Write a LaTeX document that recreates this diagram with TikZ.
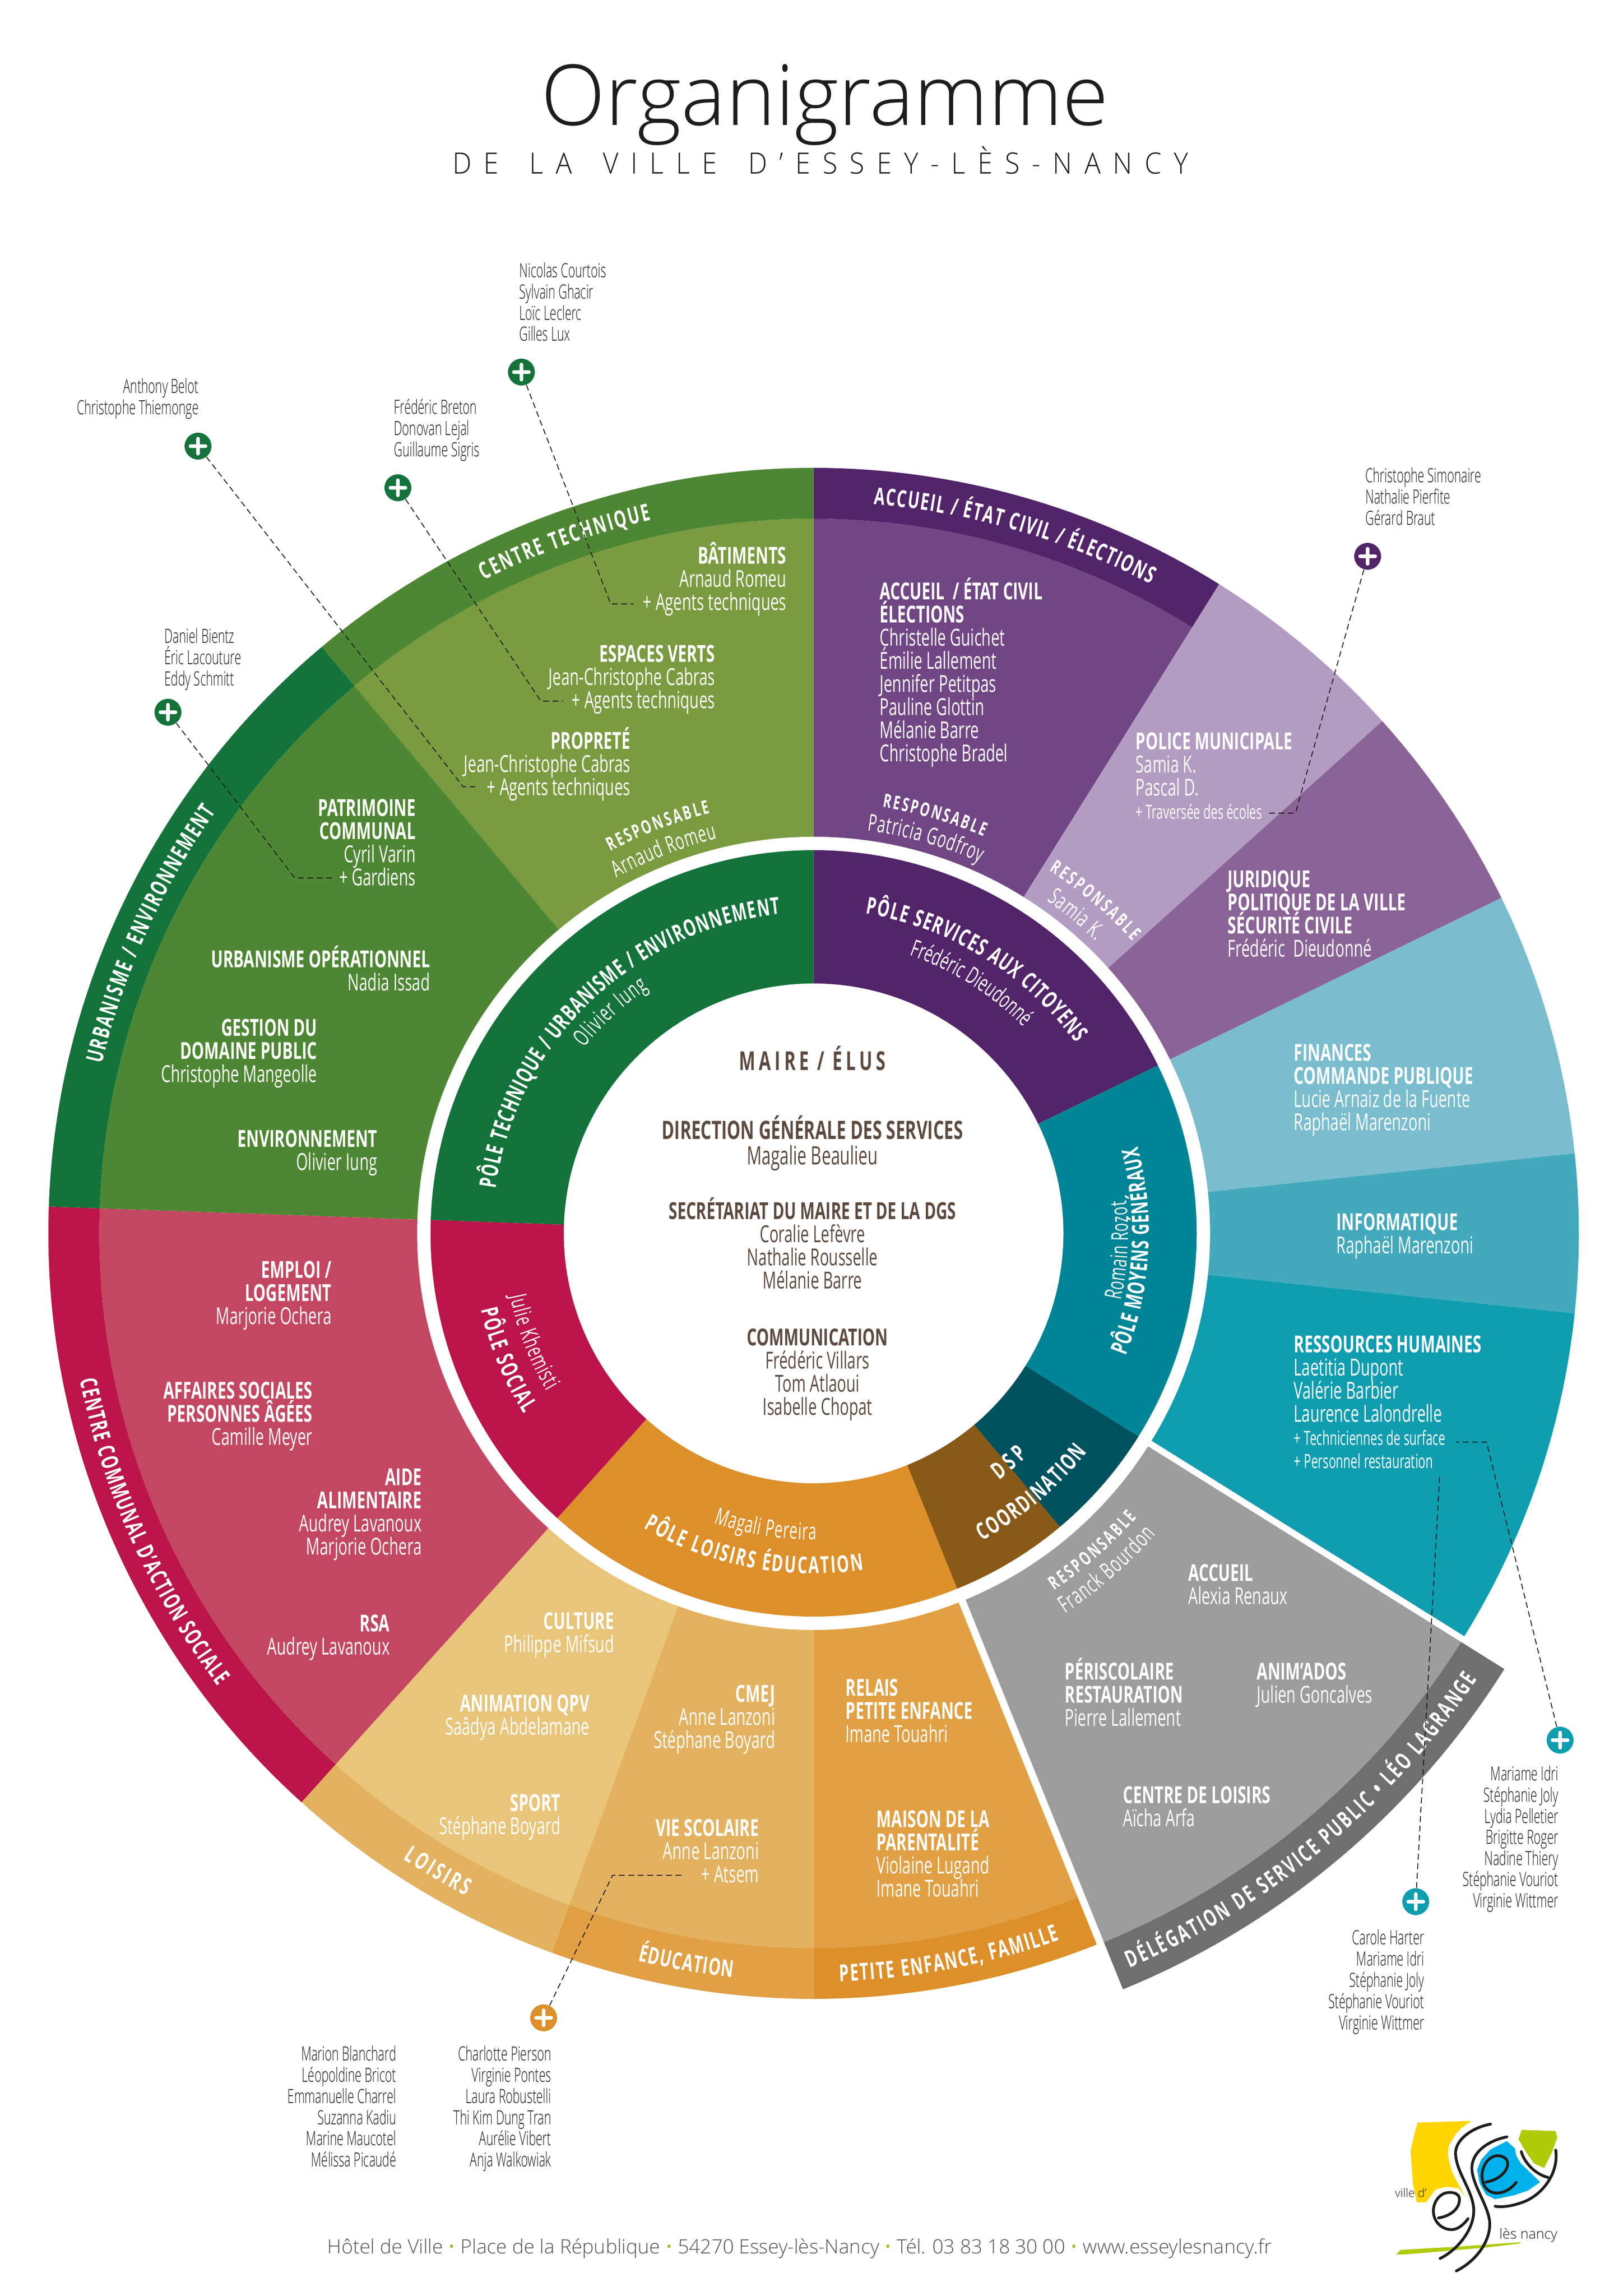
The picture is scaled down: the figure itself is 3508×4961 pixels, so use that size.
\documentclass[tikz,border=0pt]{standalone}
\usepackage{fontspec}
\usetikzlibrary{decorations.text}
\setmainfont{Open Sans}
\newfontfamily\ffB[FakeStretch=0.67]{Open Sans Bold}
\newfontfamily\ffBA[FakeStretch=0.66]{Open Sans Bold}
\newfontfamily\ffR[FakeStretch=0.65]{Open Sans}
\newfontfamily\ffQ[FakeStretch=0.62]{Open Sans}
\newfontfamily\ffL[FakeStretch=0.61]{Open Sans Light}
\newfontfamily\ffT{Open Sans Light}
\newfontfamily\ffS[LetterSpace=42,FakeStretch=0.92]{Open Sans Light}
\newcommand\fH{\ffB\fontsize{14.4pt}{15pt}\selectfont}
\newcommand\fN{\ffR\fontsize{14.4pt}{15pt}\selectfont}
\newcommand\fCH{\ffB\fontsize{15.6pt}{16pt}\selectfont}
\newcommand\fCN{\ffR\fontsize{15.6pt}{16pt}\selectfont}
\newcommand\fS{\ffQ\fontsize{12pt}{13pt}\selectfont}
\newcommand\fO{\ffL\fontsize{12pt}{13pt}\selectfont}
\newcommand\fBand{\ffBA\fontsize{14.4pt}{15pt}\selectfont}
\newcommand\fResp{\ffBA\fontsize{11.6pt}{12pt}\selectfont}
\newcommand\fArcN{\ffQ\fontsize{14.4pt}{15pt}\selectfont}
\definecolor{gA}{HTML}{13733A}\definecolor{gB}{HTML}{4E8733}\definecolor{gC}{HTML}{7A9B3F}
\definecolor{pA}{HTML}{52246A}\definecolor{pB}{HTML}{714684}\definecolor{pC}{HTML}{B39CC1}\definecolor{pD}{HTML}{8B6497}
\definecolor{tA}{HTML}{008596}\definecolor{tB}{HTML}{00525E}\definecolor{tC}{HTML}{79BDCE}\definecolor{tD}{HTML}{43A9BC}\definecolor{tE}{HTML}{0F9DB0}
\definecolor{brn}{HTML}{885917}\definecolor{oA}{HTML}{DD8F2A}\definecolor{oB}{HTML}{E1A043}\definecolor{oC}{HTML}{E3B260}\definecolor{oD}{HTML}{E9C57A}
\definecolor{rA}{HTML}{BB1549}\definecolor{rB}{HTML}{C44761}
\definecolor{grA}{HTML}{9D9D9D}\definecolor{grB}{HTML}{706F6F}
\definecolor{ink}{HTML}{1D1D1B}\definecolor{brown}{HTML}{5D4A3F}\definecolor{foot}{HTML}{575756}\definecolor{lime}{HTML}{95C11F}
\definecolor{lgY}{HTML}{FFD500}\definecolor{lgB}{HTML}{00B1EB}\definecolor{lgG}{HTML}{AFCB08}
\newcounter{lb}
\def\blkoff{3}
\newcommand\Sec[5]{\fill[#1] (#2:#4) -- (#2:#5) arc[start angle=#2,end angle=#3,radius=#5] -- (#3:#4) arc[start angle=#3,end angle=#2,radius=#4] -- cycle;}
\newcommand\ArcT[5]{\path[decorate,decoration={text along path,text align=fit to path,text={|\color{white}#4|#5}}] (#2:#1) arc[start angle=#2,end angle=#3,radius=#1];}
\newcommand\Blk[6]{\foreach \lbl [count=\ii from 0] in {#6}{\stepcounter{lb}\node[anchor=#5,inner sep=0pt,text=#1] (L\thelb) at ({#3},{4961-(#4)-\blkoff-\ii*(#2)}) {\lbl};}}
\newcommand\Pt[3]{\coordinate (#1) at ({#2},{4961-(#3)});}
\newcommand\Plus[4]{\node[plusn,fill=#1] (#2) at ({#3},{4961-(#4)}) {};}
\tikzset{
 plusn/.style={circle,inner sep=0pt,minimum size=5.8mm,path picture={
   \draw[white,line width=0.85mm,line cap=round] ([xshift=-1.6mm]path picture bounding box.center) -- ([xshift=1.6mm]path picture bounding box.center);
   \draw[white,line width=0.85mm,line cap=round] ([yshift=-1.6mm]path picture bounding box.center) -- ([yshift=1.6mm]path picture bounding box.center);}},
 leader/.style={draw=ink,line width=0.55pt,dash pattern=on 3.6pt off 2.2pt},
 stroke/.style={draw=ink,line width=1.7pt,line cap=round}
}
\begin{document}
\begin{tikzpicture}[x=0.1mm,y=0.1mm]
\useasboundingbox (0,0) rectangle (3508,4961);
% ---- title
\node[inner sep=0pt,anchor=base,text=ink] (title) at (1783,{4961-271}) {\resizebox{122.6mm}{!}{\ffT\fontsize{50pt}{52pt}\selectfont Organigramme}};
\node[inner sep=0pt,anchor=base,text=ink] (subtitle) at (1773,{4961-376}) {\resizebox{159mm}{!}{\ffS\fontsize{16.7pt}{18pt}\selectfont DE\hspace{.4em} LA\hspace{.4em} VILLE\hspace{.4em} D’ESSEY-LÈS-NANCY}};
% ---- wheel
\begin{scope}[shift={(1758.5,2296)}]
% inner ring
\Sec{gA}{90}{178}{540}{828}
\Sec{pA}{26}{90}{540}{828}
\Sec{tA}{-32}{26}{540}{828}
\Sec{tB}{-50}{-32}{540}{828}
\Sec{brn}{-68}{-50}{540}{828}
\Sec{oA}{-132}{-68}{540}{828}
\Sec{rA}{178}{228}{540}{828}
% main sectors
\Sec{gC}{90}{130}{857}{1544}  \Sec{gB}{90}{130}{1544}{1654}
\Sec{gB}{130}{178}{857}{1544} \Sec{gA}{130}{178}{1544}{1654}
\Sec{pB}{58}{90}{857}{1544}   \Sec{pA}{58}{90}{1544}{1654}
\Sec{pC}{42}{58}{857}{1654}
\Sec{pD}{26}{42}{857}{1654}
\Sec{tC}{6}{26}{857}{1654}
\Sec{tD}{-6}{6}{857}{1654}
\Sec{tE}{-32}{-6}{857}{1654}
\Sec{grA}{-68}{-32}{857}{1655} \Sec{grB}{-68}{-32}{1655}{1765}
\Sec{oB}{-90}{-68}{857}{1544}  \Sec{oA}{-90}{-68}{1544}{1654}
\Sec{oC}{250}{270}{857}{1544}  \Sec{oB}{250}{270}{1544}{1654}
\Sec{oD}{228}{250}{857}{1544}  \Sec{oC}{228}{250}{1544}{1654}
\Sec{rB}{178}{228}{857}{1544}  \Sec{rA}{178}{228}{1544}{1654}
\coordinate (sa) at (-32:835);\coordinate (sb) at (-32:1800);
\coordinate (sc) at (-68:835);\coordinate (sd) at (-68:1800);
\draw[white,line width=1.4mm] (sa) -- (sb);
\draw[white,line width=1.6mm] (sc) -- (sd);
% band labels
\ArcT{1581}{116.8}{102.8}{\fBand}{CENTRE TECHNIQUE}
\ArcT{1581}{166.6}{144.8}{\fBand}{URBANISME / ENVIRONNEMENT}
\ArcT{1581}{85.3}{62.6}{\fBand}{ACCUEIL / ÉTAT CIVIL / ÉLECTIONS}
\ArcT{1617}{191.3}{217.2}{\fBand}{CENTRE COMMUNAL D’ACTION SOCIALE}
\ArcT{1617}{236.7}{242.3}{\fBand}{LOISIRS}
\ArcT{1617}{256.4}{263.8}{\fBand}{ÉDUCATION}
\ArcT{1617}{272}{289.2}{\fBand}{PETITE ENFANCE, FAMILLE}
\ArcT{1728}{-66.7}{-33.9}{\fBand}{DÉLÉGATION DE SERVICE PUBLIC • LÉO LAGRANGE}
% inner ring labels
\ArcT{694}{172}{96}{\fBand}{PÔLE TECHNIQUE / URBANISME / ENVIRONNEMENT}
\ArcT{638}{141}{124}{\fArcN}{Olivier Iung}
\ArcT{700}{80.8}{36}{\fBand}{PÔLE SERVICES AUX CITOYENS}
\ArcT{636}{71}{44.5}{\fArcN}{Frédéric Dieudonné}
\ArcT{725}{-21.4}{15}{\fBand}{PÔLE MOYENS GÉNÉRAUX}
\ArcT{680}{-12.3}{6}{\fArcN}{Romain Rozot}
\ArcT{667}{-53.1}{-46}{\fBand}{DSP}
\ArcT{757}{-61.3}{-38.6}{\fBand}{COORDINATION}
\ArcT{662}{251}{270.6}{\fArcN}{Magali Pereira}
\ArcT{735}{240}{278.5}{\fBand}{PÔLE LOISIRS ÉDUCATION}
\ArcT{738}{192.9}{211.9}{\fBand}{PÔLE SOCIAL}
\ArcT{670}{191.7}{210.6}{\fArcN}{Julie Khemisti}
% responsables
\ArcT{935}{118}{103.8}{\fResp}{RESPONSABLE}
\ArcT{878}{119}{103.7}{\fArcN}{Arnaud Romeu}
\ArcT{933}{80.8}{66.8}{\fResp}{RESPONSABLE}
\ArcT{878}{82.4}{65.8}{\fArcN}{Patricia Godfroy}
\ArcT{935}{57}{42.5}{\fResp}{RESPONSABLE}
\ArcT{878}{55}{46}{\fArcN}{Samia K.}
\ArcT{930}{-56}{-41.3}{\fResp}{RESPONSABLE}
\ArcT{985}{-56.5}{-41.3}{\fArcN}{Franck Bourdon}
\end{scope}
% ---- sector texts
\Blk{white}{50}{1700}{1216}{base east}{\fH BÂTIMENTS,\fN Arnaud Romeu,\fN + Agents techniques}
\Blk{white}{50}{1546}{1428}{base east}{\fH ESPACES VERTS,\fN Jean-Christophe Cabras,\fN + Agents techniques}
\Blk{white}{50}{1363}{1616}{base east}{\fH PROPRETÉ,\fN Jean-Christophe Cabras,\fN + Agents techniques}
\Blk{white}{50}{899}{1761}{base east}{\fH PATRIMOINE,\fH COMMUNAL,\fN Cyril Varin,\fN + Gardiens}
\Blk{white}{50}{930}{2088}{base east}{\fH URBANISME OPÉRATIONNEL,\fN Nadia Issad}
\Blk{white}{50}{686}{2236}{base east}{\fH GESTION DU,\fH DOMAINE PUBLIC,\fN Christophe Mangeolle}
\Blk{white}{50}{816}{2476}{base east}{\fH ENVIRONNEMENT,\fN Olivier Iung}
\Blk{white}{50}{1901}{1293}{base west}{\fH ACCUEIL~~/ ÉTAT CIVIL,\fH ÉLECTIONS,\fN Christelle Guichet,\fN Émilie Lallement,\fN Jennifer Petitpas,\fN Pauline Glottin,\fN Mélanie Barre,\fN Christophe Bradel}
\Blk{white}{50}{2454}{1617}{base west}{\fH POLICE MUNICIPALE,\fN Samia K.,\fN Pascal D.,\fS + Traversée des écoles}
\Blk{white}{50}{2653}{1915}{base west}{\fH JURIDIQUE,\fH POLITIQUE DE LA VILLE,\fH SÉCURITÉ CIVILE,\fN Frédéric~~Dieudonné}
\Blk{white}{50}{2796}{2290}{base west}{\fH FINANCES,\fH COMMANDE PUBLIQUE,\fN Lucie Arnaiz de la Fuente,\fN Raphaël Marenzoni}
\Blk{white}{50}{2888}{2656}{base west}{\fH INFORMATIQUE,\fN Raphaël Marenzoni}
\Blk{white}{50}{2796}{2920}{base west}{\fH RESSOURCES HUMAINES,\fN Laetitia Dupont,\fN Valérie Barbier,\fN Laurence Lalondrelle,\fS + Techniciennes de surface,\fS + Personnel restauration}
\Blk{white}{50}{2568}{3414}{base west}{\fH ACCUEIL,\fN Alexia Renaux}
\Blk{white}{50}{2301}{3627}{base west}{\fH PÉRISCOLAIRE,\fH RESTAURATION,\fN Pierre Lallement}
\Blk{white}{50}{2716}{3627}{base west}{\fH ANIM’ADOS,\fN Julien Goncalves}
\Blk{white}{50}{2427}{3894}{base west}{\fH CENTRE DE LOISIRS,\fN Aïcha Arfa}
\Blk{white}{50}{717}{2759}{base east}{\fH EMPLOI /,\fH LOGEMENT,\fN Marjorie Ochera}
\Blk{white}{50}{676}{3020}{base east}{\fH AFFAIRES SOCIALES,\fH PERSONNES ÂGÉES,\fN Camille Meyer}
\Blk{white}{50}{912}{3207}{base east}{\fH AIDE,\fH ALIMENTAIRE,\fN Audrey Lavanoux,\fN Marjorie Ochera}
\Blk{white}{50}{843}{3523}{base east}{\fH RSA,\fN Audrey Lavanoux}
\Blk{white}{50}{1328}{3518}{base east}{\fH CULTURE,\fN Philippe Mifsud}
\Blk{white}{50}{1275}{3696}{base east}{\fH ANIMATION QPV,\fN Saâdya Abdelamane}
\Blk{white}{50}{1212}{3911}{base east}{\fH SPORT,\fN Stéphane Boyard}
\Blk{white}{50}{1676}{3675}{base east}{\fH CMEJ,\fN Anne Lanzoni,\fN Stéphane Boyard}
\Blk{white}{50}{1641}{3965}{base east}{\fH VIE SCOLAIRE,\fN Anne Lanzoni,\fN + Atsem}
\Blk{white}{50}{1827}{3662}{base west}{\fH RELAIS,\fH PETITE ENFANCE,\fN Imane Touahri}
\Blk{white}{50}{1894}{3946}{base west}{\fH MAISON DE LA,\fH PARENTALITÉ,\fN Violaine Lugand,\fN Imane Touahri}
% ---- centre
\node[inner sep=0pt,anchor=base,text=brown] (maire) at (1756,{4961-2313}) {\ffB\fontsize{16pt}{17pt}\selectfont\addfontfeature{LetterSpace=14} MAIRE / ÉLUS};
\Blk{brown}{55}{1756}{2459}{base}{\fCH DIRECTION GÉNÉRALE DES SERVICES,\fCN Magalie Beaulieu}
\Blk{brown}{50}{1756}{2632}{base}{\fH SECRÉTARIAT DU MAIRE ET DE LA DGS,\fN Coralie Lefèvre,\fN Nathalie Rousselle,\fN Mélanie Barre}
\Blk{brown}{50}{1767}{2905}{base}{\fH COMMUNICATION,\fN Frédéric Villars,\fN Tom Atlaoui,\fN Isabelle Chopat}
% ---- outer names
\def\blkoff{0}
\Blk{ink}{45.6}{1122}{600}{base west}{\fO Nicolas Courtois,\fO Sylvain Ghacir,\fO Loïc Leclerc,\fO Gilles Lux}
\Blk{ink}{45.6}{430}{850}{base east}{\fO Anthony Belot,\fO Christophe Thiemonge}
\Blk{ink}{45.6}{851}{895}{base west}{\fO Frédéric Breton,\fO Donovan Lejal,\fO Guillaume Sigris}
\Blk{ink}{45.6}{355}{1390}{base west}{\fO Daniel Bientz,\fO Éric Lacouture,\fO Eddy Schmitt}
\Blk{ink}{45.6}{2951}{1043}{base west}{\fO Christophe Simonaire,\fO Nathalie Pierfite,\fO Gérard Braut}
\Blk{ink}{45.6}{3369}{3848}{base east}{\fO Mariame Idri,\fO Stéphanie Joly,\fO Lydia Pelletier,\fO Brigitte Roger,\fO Nadine Thiery,\fO Stéphanie Vouriot,\fO Virginie Wittmer}
\Blk{ink}{45.8}{3079}{4202}{base east}{\fO Carole Harter,\fO Mariame Idri,\fO Stéphanie Joly,\fO Stéphanie Vouriot,\fO Virginie Wittmer}
\Blk{ink}{45.7}{857}{4453}{base east}{\fO Marion Blanchard,\fO Léopoldine Bricot,\fO Emmanuelle Charrel,\fO Suzanna Kadiu,\fO Marine Maucotel,\fO Mélissa Picaudé}
\Blk{ink}{45.7}{1192}{4453}{base east}{\fO Charlotte Pierson,\fO Virginie Pontes,\fO Laura Robustelli,\fO Thi Kim Dung Tran,\fO Aurélie Vibert,\fO Anja Walkowiak}
% ---- plus markers and leaders
\Plus{gA}{pBat}{1127}{804}
\Plus{gA}{pPro}{428}{964}
\Plus{gA}{pEsp}{860}{1054}
\Plus{gA}{pPat}{363}{1539}
\Plus{pA}{pPol}{2956}{1202}
\Plus{tE}{pTec}{3372}{3760}
\Plus{tE}{pPer}{3060}{4109}
\Plus{oA}{pVie}{1175}{4360}
\Pt{cBat}{1320}{1305}\Pt{eBat}{1369}{1305}
\Pt{cPro}{1001}{1700}\Pt{ePro}{1027}{1700}
\Pt{cEsp}{1169}{1515}\Pt{eEsp}{1217}{1515}
\Pt{cPat}{637}{1897}\Pt{ePat}{717}{1897}
\Pt{cPol}{2800}{1757}\Pt{ePol}{2739}{1757}
\Pt{cTec}{3213}{3116}\Pt{eTec}{3147}{3116}
\Pt{ePer}{3112}{3184}
\Pt{cVie}{1324}{4052}\Pt{eVie}{1474}{4052}
\draw[leader] (pBat) -- (cBat) -- (eBat);
\draw[leader] (pPro) -- (cPro) -- (ePro);
\draw[leader] (pEsp) -- (cEsp) -- (eEsp);
\draw[leader] (pPat) -- (cPat) -- (ePat);
\draw[leader] (pPol) -- (cPol) -- (ePol);
\draw[leader] (pTec) -- (cTec) -- (eTec);
\draw[leader] (pPer) -- (ePer);
\draw[leader] (pVie) -- (cVie) -- (eVie);
% ---- footer
\node[inner sep=0pt,anchor=base west,text=foot] (footer) at (707,{4961-4870}) {\resizebox{204.1mm}{!}{\ffT\fontsize{13.5pt}{14pt}\selectfont Hôtel de Ville {\color{lime}•} Place de la République {\color{lime}•} 54270 Essey-lès-Nancy {\color{lime}•} Tél. 03 83 18 30 00 {\color{lime}•} www.esseylesnancy.fr}};
% ---- logo
\begin{scope}[shift={(2980,401)},xscale=0.3356,yscale=-0.3367]
\fill[lgY] (250,78) -- (597,67) -- (530,115) -- (490,160) -- (450,230) -- (445,290) -- (470,390) -- (500,450) -- (555,550) -- (515,500) -- (440,490) -- (370,505) -- (340,540) -- (305,590) -- (245,590) -- (220,470) -- (205,260) -- (235,130) -- cycle;
\fill[lgB] (825,197) -- (878,245) -- (885,290) -- (915,340) -- (1040,460) -- (960,515) -- (870,545) -- (750,570) -- (690,540) -- (650,470) -- (633,380) -- (660,315) -- (720,250) -- cycle;
\fill[lgG] (920,125) -- (1138,132) -- (1150,175) -- (1115,270) -- (1065,370) -- (1000,340) -- (950,270) -- (900,185) -- cycle;
\fill[lgG] (112,925) -- (140,895) -- (500,875) -- (920,845) -- (900,855) -- (690,880) -- (400,905) -- (160,925) -- cycle;
\draw[stroke] (720,88) .. controls (600,110) and (490,190) .. (495,280) .. controls (500,400) and (610,520) .. (612,640) .. controls (614,770) and (500,900) .. (395,950);
\draw[stroke] (825,170) .. controls (700,195) and (600,270) .. (600,370) .. controls (600,480) and (715,620) .. (715,730) .. controls (715,850) and (620,970) .. (500,1030);
\draw[stroke] (385,690) .. controls (450,680) and (520,640) .. (520,570) .. controls (520,530) and (470,520) .. (430,530) .. controls (380,545) and (350,600) .. (352,650) .. controls (355,720) and (410,765) .. (470,765) .. controls (510,765) and (550,730) .. (575,695);
\draw[stroke] (690,460) .. controls (760,450) and (830,400) .. (830,340) .. controls (830,305) and (790,285) .. (750,292) .. controls (700,305) and (665,360) .. (665,420) .. controls (665,490) and (710,535) .. (770,530) .. controls (820,525) and (860,495) .. (885,462);
\draw[stroke] (918,265) .. controls (940,340) and (1010,410) .. (1090,430);
\draw[stroke] (1140,255) .. controls (1160,400) and (1060,530) .. (950,580) .. controls (880,610) and (800,625) .. (750,615);
\node[inner sep=0pt,anchor=base west,text=ink] (ville) at (103,558) {\ffT\fontsize{7.2pt}{8pt}\selectfont ville d’};
\node[inner sep=0pt,anchor=base west,text=ink] (les) at (775,825) {\ffT\fontsize{8.6pt}{9pt}\selectfont lès nancy};
\end{scope}
\end{tikzpicture}
\end{document}
